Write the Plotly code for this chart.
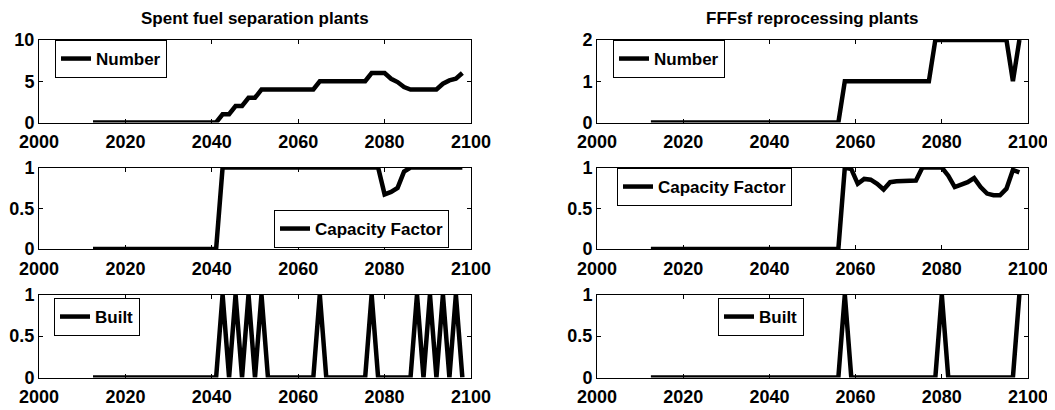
import plotly.graph_objects as go
from plotly.subplots import make_subplots

years = [2012.5, 2014, 2015.5, 2017, 2018.5, 2020, 2021.5, 2023, 2024.5, 2026,
         2027.5, 2029, 2030.5, 2032, 2033.5, 2035, 2036.5, 2038, 2039.5, 2041,
         2042.5, 2044, 2045.5, 2047, 2048.5, 2050, 2051.5, 2053, 2054.5, 2056,
         2057.5, 2059, 2060.5, 2062, 2063.5, 2065, 2066.5, 2068, 2069.5, 2071,
         2072.5, 2074, 2075.5, 2077, 2078.5, 2080, 2081.5, 2083, 2084.5, 2086,
         2087.5, 2089, 2090.5, 2092, 2093.5, 2095, 2096.5, 2098]

# Spent fuel separation plants
sep_number = [0]*20 + [1, 1, 2, 2, 3, 3, 4, 4, 4, 4,
                       4, 4, 4, 4, 4, 5, 5, 5, 5, 5,
                       5, 5, 5, 6, 6, 6, 5.3, 4.9, 4.3, 4,
                       4, 4, 4, 4, 4.7, 5.1, 5.3, 6]
sep_cf = [0]*20 + [1]*25 + [0.67, 0.70, 0.75, 0.95, 1, 1, 1, 1, 1, 1, 1, 1, 1]
sep_built = [0]*20 + [1, 0, 1, 0, 1, 0, 1, 0, 0, 0,
                      0, 0, 0, 0, 0, 1, 0, 0, 0, 0,
                      0, 0, 0, 1, 0, 0, 0, 0, 0, 0,
                      1, 0, 1, 0, 1, 0, 1, 0]

# FFFsf reprocessing plants
fff_number = [0]*30 + [1]*14 + [2]*12 + [1, 2]
fff_cf = [0]*30 + [1, 0.98, 0.80, 0.86, 0.85, 0.80, 0.73, 0.82, 0.83, 0.83,
                   0.83, 0.84, 1, 1, 1, 1, 0.90, 0.76, 0.79, 0.82,
                   0.87, 0.76, 0.68, 0.66, 0.66, 0.74, 0.97, 0.94]
fff_built = [0]*30 + [1] + [0]*14 + [1] + [0]*11 + [1]

titles = ["Spent fuel separation plants", "FFFsf reprocessing plants"]
x_ticks = [2000, 2020, 2040, 2060, 2080, 2100]
y_ticks_number_left = [0, 5, 10]
y_ticks_number_right = [0, 1, 2]
y_ticks_frac = [0, 0.5, 1]

W, H = 1055, 410
OFF = 8  # page body margin offset of the figure div
FONT = "Liberation Sans, Arial, Helvetica, sans-serif"


def fx(px):
    return (px - OFF) / W


def fy(py):
    return 1 - (py - OFF) / H


fig = make_subplots(rows=3, cols=2)

panels = [
    (1, 1, sep_number, "Number", 10, y_ticks_number_left),
    (2, 1, sep_cf, "Capacity Factor", 1, y_ticks_frac),
    (3, 1, sep_built, "Built", 1, y_ticks_frac),
    (1, 2, fff_number, "Number", 2, y_ticks_number_right),
    (2, 2, fff_cf, "Capacity Factor", 1, y_ticks_frac),
    (3, 2, fff_built, "Built", 1, y_ticks_frac),
]

xdom = {1: [fx(39), fx(471)], 2: [fx(597), fx(1028)]}
ydom = {1: [fy(122.5), fy(40)],
        2: [fy(249), fy(167.5)],
        3: [fy(377.5), fy(294.5)]}

legpos = [(55, 40), (274, 210), (54, 298), (613, 40), (617, 168), (718, 298)]

for i, (r, c, yv, name, ymax, yt) in enumerate(panels):
    lg = "legend" if i == 0 else f"legend{i + 1}"
    fig.add_trace(go.Scatter(x=years, y=yv, mode="lines", name=name,
                             line=dict(color="black", width=4.5),
                             showlegend=True, legend=lg), row=r, col=c)
    lx, ly = legpos[i]
    fig.update_layout({lg: dict(x=fx(lx), y=fy(ly), xanchor="left", yanchor="top",
                                bgcolor="white", bordercolor="black", borderwidth=1,
                                font=dict(family=FONT, size=17, color="black", weight="bold"),
                                itemwidth=30, tracegroupgap=0)})
    fig.update_xaxes(row=r, col=c, domain=xdom[c], range=[2000, 2100],
                     tickvals=x_ticks, ticktext=[str(t) for t in x_ticks],
                     ticks="inside", ticklen=4, tickcolor="black",
                     showline=True, linecolor="black", linewidth=1, mirror="ticks",
                     showgrid=False, zeroline=False, automargin=False,
                     ticklabelstandoff=3,
                     tickfont=dict(family=FONT, size=18, color="black", weight="bold"))
    fig.update_yaxes(row=r, col=c, domain=ydom[r], range=[0, ymax],
                     tickvals=yt, ticktext=[f"{t:g}" for t in yt],
                     ticks="inside", ticklen=4, tickcolor="black",
                     showline=True, linecolor="black", linewidth=1, mirror="ticks",
                     showgrid=False, zeroline=False, automargin=False,
                     tickfont=dict(family=FONT, size=18, color="black", weight="bold"))

for c, t in zip([1, 2], titles):
    fig.add_annotation(text=t, x=(xdom[c][0] + xdom[c][1]) / 2, y=fy(18),
                       xref="paper", yref="paper", showarrow=False,
                       xanchor="center", yanchor="middle",
                       font=dict(family=FONT, size=17, color="black", weight="bold"))

fig.update_layout(template="none", width=W, height=H,
                  margin=dict(l=0, r=0, t=0, b=0, autoexpand=False),
                  paper_bgcolor="white", plot_bgcolor="white", showlegend=True)

fig.write_html("out.html")
